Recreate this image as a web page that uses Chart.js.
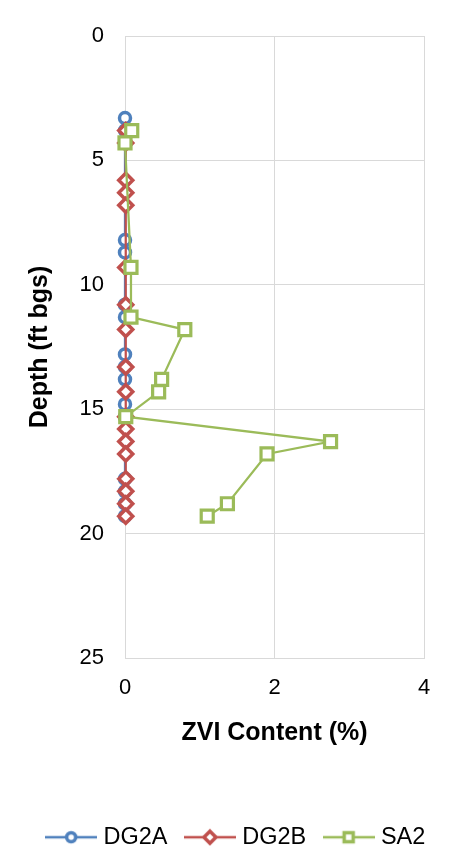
<!DOCTYPE html>
<html>
<head>
<meta charset="utf-8">
<script src="https://cdn.jsdelivr.net/npm/chart.js@4"></script>
<style>
  html, body { margin: 0; padding: 0; background: #fff; overflow: hidden; }
  #wrap { width: 459px; height: 850px; }
</style>
</head>
<body>
<div id="wrap"><canvas id="chart"></canvas></div>
<script>
// depth (ft bgs) and ZVI content (%) per boring
let dg2aDepth = [3.3, 3.8, 8.2, 8.7, 10.8, 11.3, 12.8, 13.3, 13.8, 14.8, 15.3, 17.8, 18.3, 18.8, 19.3];
let dg2aZvi   = [0, 0, 0, 0, 0, 0, 0, 0, 0, 0, 0, 0, 0, 0, 0];
let dg2bDepth = [3.8, 4.3, 5.8, 6.3, 6.8, 9.3, 10.8, 11.8, 13.3, 14.3, 15.3, 15.8, 16.3, 16.8, 17.8, 18.3, 18.8, 19.3];
let dg2bZvi   = [0.01, 0.01, 0.01, 0.01, 0.01, 0.01, 0.01, 0.01, 0.01, 0.01, 0.01, 0.01, 0.01, 0.01, 0.01, 0.01, 0.01, 0.01];
let sa2Depth  = [3.8, 4.3, 9.3, 11.3, 11.8, 13.8, 14.3, 15.3, 16.3, 16.8, 18.8, 19.3];
let sa2Zvi    = [0.09, 0.0, 0.08, 0.08, 0.8, 0.49, 0.45, 0.01, 2.75, 1.9, 1.37, 1.1];
let seriesNames = ["DG2A", "DG2B", "SA2"];
let depthTicks = [0, 5, 10, 15, 20, 25];
let zviTicks = [0, 2, 4];

const colors = ["#4F81BD", "#C0504D", "#9BBB59"];
const font = "'Liberation Sans', Arial, sans-serif";

function toPoints(xs, ys) {
    return xs.map((x, i) => ({ x: x, y: ys[i] }));
}

// little line + marker picture for the legend
function legendIcon(color, style) {
    let c = document.createElement("canvas");
    c.width = 52;
    c.height = 18;
    let g = c.getContext("2d");
    g.strokeStyle = color;
    g.lineWidth = 2.5;
    g.beginPath();
    g.moveTo(0, 9);
    g.lineTo(52, 9);
    g.stroke();
    g.fillStyle = "#fff";
    g.lineWidth = 3.5;
    g.beginPath();
    if (style == "circle") {
        g.arc(26, 9, 4.5, 0, Math.PI * 2);
    } else if (style == "diamond") {
        g.moveTo(26, 3); g.lineTo(32, 9); g.lineTo(26, 15); g.lineTo(20, 9); g.closePath();
    } else {
        g.rect(21.5, 4.5, 9, 9);
    }
    g.fill();
    g.stroke();
    return c;
}
const icons = [legendIcon(colors[0], "circle"), legendIcon(colors[1], "diamond"), legendIcon(colors[2], "square")];

function makeSet(i, xs, ys, style, radius, border, order) {
    return {
        label: seriesNames[i],
        data: toPoints(xs, ys),
        showLine: true,
        clip: false,
        borderColor: colors[i],
        borderWidth: 2.25,
        pointStyle: style,
        pointRadius: radius,
        pointBorderWidth: border,
        pointBorderColor: colors[i],
        pointBackgroundColor: "#fff",
        order: order
    };
}

// nudge the legend row to the right, like the original
const legendShift = {
    id: "legendShift",
    afterLayout(c) {
        c.legend.left += 26;
        c.legend.right += 26;
    }
};

let ctx = document.getElementById("chart").getContext("2d");
let chart = new Chart(ctx, {
    type: "scatter",
    data: {
        datasets: [
            makeSet(0, dg2aZvi, dg2aDepth, "circle", 5.5, 3.5, 3),
            makeSet(1, dg2bZvi, dg2bDepth, "rectRot", 7, 3.5, 2),
            makeSet(2, sa2Zvi, sa2Depth, "rect", 8.5, 3.2, 1)
        ]
    },
    plugins: [legendShift],
    options: {
        responsive: true,
        maintainAspectRatio: false,
        animation: false,
        layout: { padding: { left: 0, right: 35, top: 36, bottom: -9 } },
        plugins: {
            tooltip: { enabled: false },
            legend: {
                position: "bottom",
                labels: {
                    usePointStyle: true,
                    pointStyleWidth: 41,
                    padding: 22,
                    color: "#000",
                    font: { family: font, size: 23.5 },
                    generateLabels: function (chart) {
                        let items = Chart.defaults.plugins.legend.labels.generateLabels(chart);
                        items.sort((a, b) => a.datasetIndex - b.datasetIndex);
                        items.forEach(it => { it.pointStyle = icons[it.datasetIndex]; it.rotation = 0; });
                        return items;
                    }
                }
            }
        },
        scales: {
            x: {
                type: "linear",
                min: 0,
                max: 4,
                afterBuildTicks: s => { s.ticks = zviTicks.map(v => ({ value: v })); },
                ticks: { color: "#000", padding: 17, font: { family: font, size: 22 } },
                grid: { color: "#d9d9d9", drawTicks: false },
                border: { color: "#d9d9d9" },
                title: {
                    display: true,
                    text: "ZVI Content (%)",
                    color: "#000",
                    font: { family: font, size: 25, weight: "bold" },
                    padding: { top: 0, bottom: 55 }
                },
                afterFit: s => { s.height = 145.5; }
            },
            y: {
                type: "linear",
                reverse: true,
                min: 0,
                max: 25,
                afterBuildTicks: s => { s.ticks = depthTicks.map(v => ({ value: v })); },
                ticks: { color: "#000", padding: 21, font: { family: font, size: 22 } },
                grid: { color: "#d9d9d9", drawTicks: false },
                border: { color: "#d9d9d9" },
                title: {
                    display: true,
                    text: "Depth (ft bgs)",
                    color: "#000",
                    font: { family: font, size: 25, weight: "bold" },
                    padding: { top: 25, bottom: 0 }
                },
                afterFit: s => { s.width = 125; }
            }
        }
    }
});
</script>
</body>
</html>
